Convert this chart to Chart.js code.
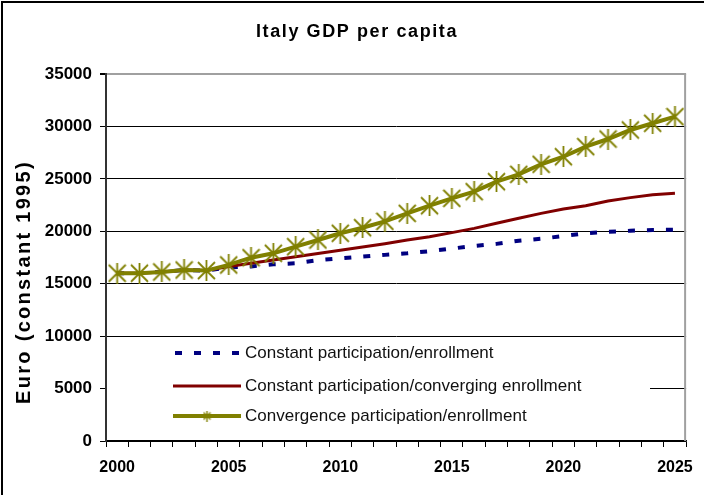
<!DOCTYPE html>
<html>
<head>
<meta charset="utf-8"/>
<title>Italy GDP per capita</title>
<script src="https://cdn.jsdelivr.net/npm/chart.js@4.4.0/dist/chart.umd.min.js"></script>
<style>
body { margin: 0; background: #fff; }
#wrap { position: relative; width: 704px; height: 495px; }
</style>
</head>
<body>
<div id="wrap"><canvas id="chart"></canvas></div>
<script>
var years = ['2000','2001','2002','2003','2004','2005','2006','2007','2008','2009','2010','2011','2012',
             '2013','2014','2015','2016','2017','2018','2019','2020','2021','2022','2023','2024','2025'];
// Constant participation/enrollment
var constantEnroll = [16000, 16000, 16120, 16310, 16250, 16560, 16650, 16850, 16950, 17250, 17420, 17580, 17750,
                      17900, 18100, 18350, 18600, 18800, 19100, 19290, 19550, 19800, 19950, 20050, 20120, 20150];
// Constant participation/converging enrollment
var convergingEnroll = [16000, 16000, 16120, 16310, 16250, 16650, 16960, 17270, 17580, 17890, 18200, 18510, 18820,
                        19170, 19480, 19870, 20280, 20760, 21240, 21710, 22120, 22440, 22890, 23210, 23490, 23620];
// Convergence participation/enrollment
var convergence = [16000, 16000, 16120, 16310, 16250, 16790, 17480, 17900, 18530, 19170, 19810, 20340, 20950,
                   21710, 22440, 23140, 23780, 24730, 25430, 26390, 27110, 28070, 28800, 29660, 30300, 30930];
var seriesNames = ['Constant participation/enrollment',
                   'Constant participation/converging enrollment',
                   'Convergence participation/enrollment'];
var yMax = 35000, yStep = 5000;

var FONT = '"Liberation Sans", Arial, sans-serif';

// asterisk marker like the Excel one (vertical bar + X)
function starImage(w, h, lw) {
  var c = document.createElement('canvas');
  c.width = w; c.height = h;
  var g = c.getContext('2d');
  g.strokeStyle = '#808000';
  g.lineWidth = lw;
  g.beginPath();
  g.moveTo(w / 2, 0); g.lineTo(w / 2, h);
  g.moveTo(1, 2); g.lineTo(w - 1, h - 2);
  g.moveTo(w - 1, 2); g.lineTo(1, h - 2);
  g.stroke();
  return c;
}
var bigStar = starImage(19, 21, 1.8);
var smallStar = starImage(9, 11, 1.4);

var decor = {
  id: 'decor',
  beforeDatasetsDraw: function(chart) {
    var ctx = chart.ctx, a = chart.chartArea;
    ctx.save();
    // legend background hides the grid lines
    ctx.fillStyle = '#fff';
    ctx.fillRect(a.left + 1, a.bottom - 101, 543, 93);
    // right border of plot
    ctx.strokeStyle = '#a0a0a0';
    ctx.lineWidth = 2;
    ctx.beginPath();
    ctx.moveTo(a.right - 1, a.top);
    ctx.lineTo(a.right - 1, a.bottom);
    ctx.stroke();
    ctx.restore();
  },
  afterDraw: function(chart) {
    var ctx = chart.ctx, a = chart.chartArea;
    ctx.save();
    // title
    ctx.fillStyle = '#000';
    ctx.font = 'bold 18px ' + FONT;
    ctx.textAlign = 'center';
    ctx.textBaseline = 'alphabetic';
    ctx.letterSpacing = '1.6px';
    ctx.fillText('Italy GDP per capita', 357, 37);
    // y axis title
    ctx.save();
    ctx.translate(30, 282);
    ctx.rotate(-Math.PI / 2);
    ctx.font = 'bold 20px ' + FONT;
    ctx.letterSpacing = '2.3px';
    ctx.fillText('Euro (constant 1995)', 0, 0);
    ctx.restore();
    ctx.letterSpacing = '0px';

    // legend
    var x0 = a.left + 67, x1 = a.left + 135;
    var rows = [a.bottom - 88, a.bottom - 55, a.bottom - 25];
    chart.data.datasets.forEach(function(ds, i) {
      var y = rows[i];
      ctx.save();
      ctx.strokeStyle = ds.borderColor;
      ctx.lineWidth = ds.borderWidth;
      ctx.lineCap = 'butt';
      ctx.setLineDash(ds.borderDash || []);
      ctx.beginPath();
      ctx.moveTo(i === 0 ? x0 + 2 : x0, y);
      ctx.lineTo(x1, y);
      ctx.stroke();
      ctx.restore();
      if (i === 2) ctx.drawImage(smallStar, (x0 + x1) / 2 - 4.5, y - 5.5);
      ctx.fillStyle = '#111';
      ctx.font = '17px ' + FONT;
      ctx.textAlign = 'left';
      ctx.textBaseline = 'middle';
      ctx.fillText(ds.label, x1 + 4, y);
    });

    // outer frame (top and left visible)
    ctx.strokeStyle = '#000';
    ctx.lineWidth = 2;
    ctx.beginPath();
    ctx.moveTo(2, 495); ctx.lineTo(2, 2); ctx.lineTo(704, 2);
    ctx.stroke();
    ctx.restore();
  }
};

var ctx = document.getElementById('chart');
var myChart = new Chart(ctx, {
  type: 'line',
  data: {
    labels: years,
    datasets: [{
      label: seriesNames[0],
      data: constantEnroll,
      borderColor: '#000080',
      borderWidth: 4,
      borderDash: [7, 12],
      borderCapStyle: 'butt',
      pointRadius: 0,
      fill: false,
      order: 2
    }, {
      label: seriesNames[1],
      data: convergingEnroll,
      borderColor: '#800000',
      borderWidth: 3,
      pointRadius: 0,
      fill: false,
      order: 1
    }, {
      label: seriesNames[2],
      data: convergence,
      borderColor: '#808000',
      borderWidth: 4,
      pointStyle: bigStar,
      pointRadius: 9,
      fill: false,
      order: 0
    }]
  },
  options: {
    responsive: true,
    maintainAspectRatio: false,
    animation: false,
    layout: { padding: { top: 74, right: 13, left: 0, bottom: 0 } },
    plugins: {
      legend: { display: false },
      title: { display: false },
      tooltip: { enabled: false }
    },
    scales: {
      x: {
        offset: true,
        grid: { offset: true, drawOnChartArea: false, tickLength: 6, tickColor: '#000', tickWidth: 1 },
        border: { color: '#000', width: 1.5 },
        ticks: {
          autoSkip: false,
          maxRotation: 0,
          padding: 11,
          color: '#000',
          font: { family: FONT, size: 16, weight: 'bold' },
          callback: function(v, i) {
            var y = years[i];
            return Number(y) % 5 === 0 ? y : '';
          }
        },
        afterFit: function(s) { s.height = 54; }
      },
      y: {
        min: 0,
        max: yMax,
        ticks: {
          stepSize: yStep,
          padding: 8,
          color: '#000',
          font: { family: FONT, size: 17, weight: 'bold' },
          callback: function(v) { return String(v); }
        },
        grid: {
          color: function(c) { return c.tick && c.tick.value === yMax ? '#a0a0a0' : '#000'; },
          lineWidth: function(c) { return c.tick && c.tick.value === yMax ? 2 : 1; },
          tickColor: '#000',
          tickLength: 6
        },
        border: { color: '#333', width: 2 },
        afterFit: function(s) { s.width = 106; }
      }
    }
  },
  plugins: [decor]
});
</script>
</body>
</html>
